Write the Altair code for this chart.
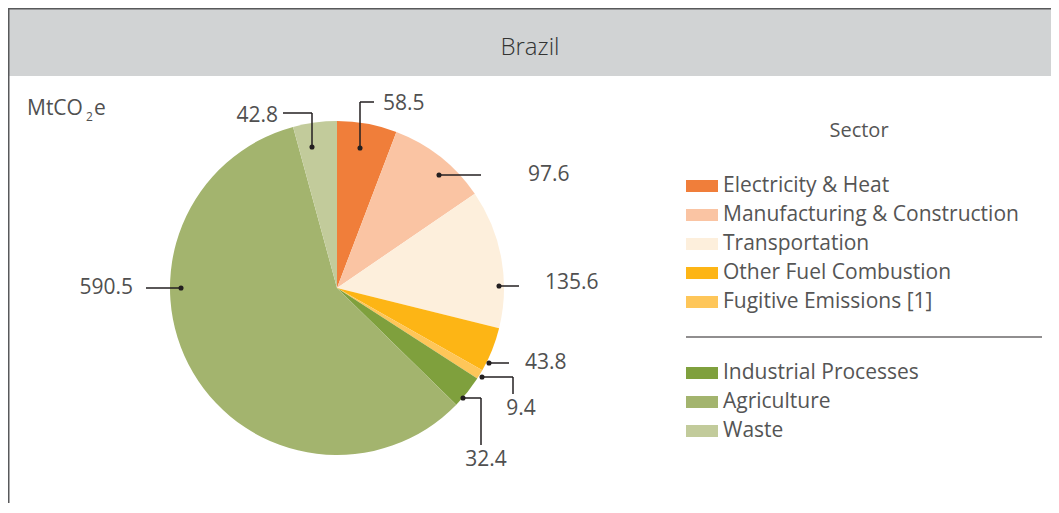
import altair as alt
import pandas as pd

# ---------------- data ----------------
country = "Brazil"
unit_parts = ["MtCO", "2", "e"]
legend_title = "Sector"
sectors = ["Electricity & Heat", "Manufacturing & Construction", "Transportation",
           "Other Fuel Combustion", "Fugitive Emissions [1]",
           "Industrial Processes", "Agriculture", "Waste"]
values = [58.5, 97.6, 135.6, 43.8, 9.4, 32.4, 590.5, 42.8]
value_labels = ["58.5", "97.6", "135.6", "43.8", "9.4", "32.4", "590.5", "42.8"]
colors = ["#f07e3a", "#fac4a3", "#fdefdc", "#fdb515", "#fec659",
          "#7fa03d", "#a3b46e", "#c2cb9b"]
legend_group = [1, 1, 1, 1, 1, 2, 2, 2]

# ---------------- layout ----------------
W, H = 1043, 495
X0, Y0 = 8, 8
CX, CY, R = 337, 288, 167
FONT = "Open Sans"
TXT = "#505050"
LINE = "#231f20"

# leader-line paths (annotation layout) and label anchor per slice
leaders = [
    dict(path=[(360, 148), (360, 102), (374, 102)], text=(383, 104), align="left"),
    dict(path=[(439, 175), (481, 175)], text=(528, 175), align="left"),
    dict(path=[(499, 286), (519, 286)], text=(545, 283), align="left"),
    dict(path=[(489, 363), (509, 363)], text=(525, 363), align="left"),
    dict(path=[(482, 377), (513, 377), (513, 394)], text=(521, 409), align="center"),
    dict(path=[(463, 398), (481, 398), (481, 445)], text=(486, 460), align="center"),
    dict(path=[(181, 288), (146, 288)], text=(133, 288), align="right"),
    dict(path=[(312, 147), (312, 113), (283, 113)], text=(278, 116), align="right"),
]

xsc = alt.Scale(domain=[X0, X0 + W], nice=False, zero=False)
ysc = alt.Scale(domain=[Y0, Y0 + H], reverse=True, nice=False, zero=False)


def X(f="x"):
    return alt.X(f"{f}:Q", scale=xsc, axis=None)


def Y(f="y"):
    return alt.Y(f"{f}:Q", scale=ysc, axis=None)


# header band + frame
band = alt.Chart(pd.DataFrame([dict(x=X0, x2=X0 + W, y=Y0, y2=76)])).mark_rect(
    color="#d1d3d4").encode(x=X(), x2="x2:Q", y=Y(), y2="y2:Q")
frame = alt.Chart(pd.DataFrame([
    dict(x=X0, x2=X0 + W, y=Y0 + 0.5, y2=Y0 + 0.5, c="top"),
    dict(x=X0 + 0.5, x2=X0 + 0.5, y=Y0, y2=Y0 + H, c="left"),
])).mark_rule(color="#58595b", strokeWidth=2).encode(x=X(), x2="x2:Q", y=Y(), y2="y2:Q")
title = alt.Chart(pd.DataFrame([dict(x=530, y=48, t=country)])).mark_text(
    font=FONT, fontSize=24, fontWeight=300, color="#333333", align="center",
    baseline="middle").encode(x=X(), y=Y(), text="t:N")

unit = alt.Chart(pd.DataFrame([
    dict(x=27, y=115, t=unit_parts[0], s=21),
    dict(x=86, y=121, t=unit_parts[1], s=12),
    dict(x=94, y=115, t=unit_parts[2], s=21),
])).mark_text(font=FONT, color=TXT, align="left", baseline="alphabetic").encode(
    x=X(), y=Y(), text="t:N", size=alt.Size("s:Q", scale=None, legend=None))

# pie
pie_df = pd.DataFrame(dict(sector=sectors, value=values, idx=range(len(values)),
                           x=[CX] * len(values), y=[CY] * len(values)))
pie = alt.Chart(pie_df).mark_arc(outerRadius=R).encode(
    theta=alt.Theta("value:Q", stack=True),
    order=alt.Order("idx:Q"),
    color=alt.Color("sector:N", scale=alt.Scale(domain=sectors, range=colors), legend=None),
    x=X(), y=Y(),
)

# leaders
segs, dots, texts = [], [], []
for lab, ld in zip(value_labels, leaders):
    p = ld["path"]
    dots.append(dict(x=p[0][0], y=p[0][1]))
    for a, b in zip(p[:-1], p[1:]):
        segs.append(dict(x=a[0], y=a[1], x2=b[0], y2=b[1]))
    texts.append(dict(x=ld["text"][0], y=ld["text"][1], t=lab, align=ld["align"]))

seg_layer = alt.Chart(pd.DataFrame(segs)).mark_rule(color=LINE, strokeWidth=1.5).encode(
    x=X(), x2="x2:Q", y=Y(), y2="y2:Q")
dot_layer = alt.Chart(pd.DataFrame(dots)).mark_circle(color=LINE, size=26, opacity=1).encode(
    x=X(), y=Y())
tdf = pd.DataFrame(texts)
text_layers = [
    alt.Chart(tdf).transform_filter(alt.datum.align == a).mark_text(
        font=FONT, fontSize=21, color=TXT, align=a, baseline="middle").encode(
        x=X(), y=Y(), text="t:N")
    for a in ["left", "center", "right"]
]

# legend
leg_rows = []
ypos = {1: 186, 2: 373}
count = {1: 0, 2: 0}
for s, c, g in zip(sectors, colors, legend_group):
    yc = ypos[g] + count[g] * 29
    count[g] += 1
    leg_rows.append(dict(sector=s, x=686, x2=718, y=yc - 6, y2=yc + 6, tx=723, ty=yc))
ldf = pd.DataFrame(leg_rows)
leg_sw = alt.Chart(ldf).mark_rect().encode(
    x=X(), x2="x2:Q", y=Y(), y2="y2:Q",
    color=alt.Color("sector:N", scale=alt.Scale(domain=sectors, range=colors), legend=None))
leg_tx = alt.Chart(ldf).mark_text(font=FONT, fontSize=21, color="#555555", align="left",
                                  baseline="middle").encode(
    x=X("tx"), y=Y("ty"), text="sector:N")
leg_title = alt.Chart(pd.DataFrame([dict(x=859, y=131, t=legend_title)])).mark_text(
    font=FONT, fontSize=20, color="#555555", align="center", baseline="middle").encode(
    x=X(), y=Y(), text="t:N")
sep = alt.Chart(pd.DataFrame([dict(x=686, x2=1042, y=337, y2=337)])).mark_rule(
    color=LINE, strokeWidth=1.2).encode(x=X(), x2="x2:Q", y=Y(), y2="y2:Q")

chart = alt.layer(
    band, frame, title, unit, pie, seg_layer, dot_layer, *text_layers,
    leg_title, leg_sw, leg_tx, sep
).properties(width=W, height=H, padding=0, autosize="none").configure_view(
    stroke=None).configure(background="white")

chart.save("out.html", embed_options={"renderer": "svg", "actions": False})
